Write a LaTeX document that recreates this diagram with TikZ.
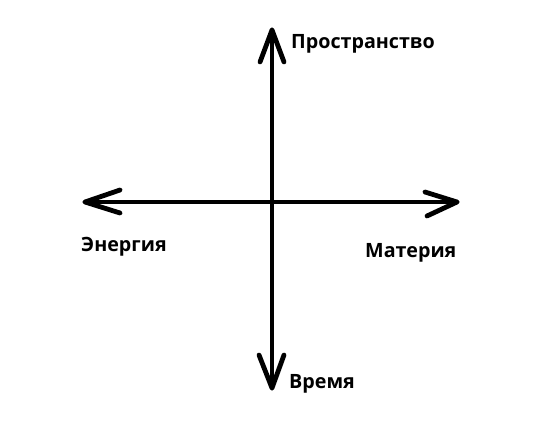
\documentclass[tikz,border=0pt]{standalone}
\usepackage{fontspec}
\setmainfont{Open Sans}
\usetikzlibrary{calc}
\begin{document}
\begin{tikzpicture}[x=1pt,y=-1pt,
  axis/.style={line width=4.8pt,line cap=round,line join=round},
  lbl/.style={font=\bfseries\fontsize{19.7}{23}\selectfont,inner sep=0pt,anchor=base west}]
\useasboundingbox[fill=white] (0,0) rectangle (549,428);
\coordinate (T) at (272,30);
\coordinate (B) at (272,388);
\coordinate (L) at (85,202);
\coordinate (R) at (457,202);
\draw[axis] (T) -- (B);
\draw[axis] (L) -- (R);
\draw[axis] ($(T)+(-12,32)$) -- (T) -- ($(T)+(12,32)$);
\draw[axis] ($(B)+(-13,-33)$) -- (B) -- ($(B)+(12,-33)$);
\draw[axis] ($(L)+(35,-12)$) -- (L) -- ($(L)+(35,11)$);
\draw[axis] ($(R)+(-32,-10)$) -- (R) -- ($(R)+(-30,14)$);
\node[lbl] (p) at (291,49) {Пространство};
\node[lbl] (e) at (81,251) {Энергия};
\node[lbl] (m) at (365,257) {Материя};
\node[lbl] (v) at (289,388) {Время};
\end{tikzpicture}
\end{document}
